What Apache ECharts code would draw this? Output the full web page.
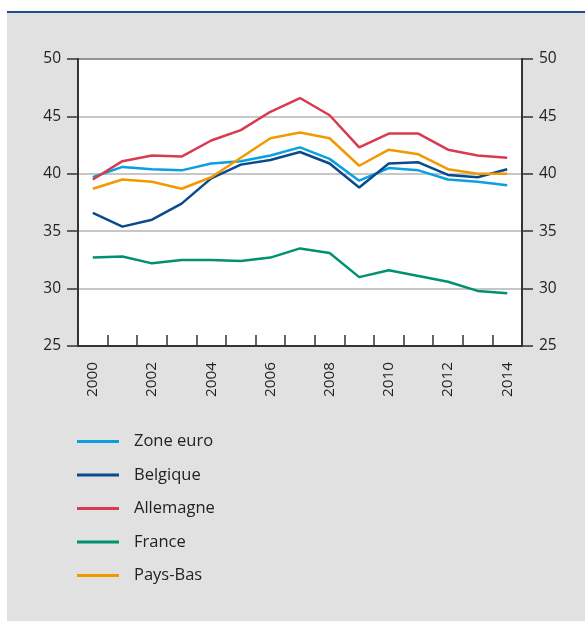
<!DOCTYPE html>
<html>
<head>
<meta charset="utf-8">
<script src="https://cdn.jsdelivr.net/npm/echarts@6/dist/echarts.min.js"></script>
<style>
  html, body { margin: 0; padding: 0; background: #fff; }
  #chart { width: 585px; height: 621px; }
</style>
</head>
<body>
<div id="chart"></div>
<script>
const years = ["2000", "2001", "2002", "2003", "2004", "2005", "2006", "2007", "2008", "2009", "2010", "2011", "2012", "2013", "2014"];

const zoneEuro = [39.7, 40.6, 40.4, 40.3, 40.9, 41.1, 41.6, 42.3, 41.3, 39.4, 40.5, 40.3, 39.5, 39.3, 39.0];
const belgique = [36.6, 35.4, 36.0, 37.4, 39.6, 40.8, 41.2, 41.9, 40.9, 38.8, 40.9, 41.0, 39.9, 39.7, 40.4];
const allemagne = [39.5, 41.1, 41.6, 41.5, 42.9, 43.8, 45.4, 46.6, 45.1, 42.3, 43.5, 43.5, 42.1, 41.6, 41.4];
const france = [32.7, 32.8, 32.2, 32.5, 32.5, 32.4, 32.7, 33.5, 33.1, 31.0, 31.6, 31.1, 30.6, 29.8, 29.6];
const paysBas = [38.7, 39.5, 39.3, 38.7, 39.7, 41.4, 43.1, 43.6, 43.1, 40.7, 42.1, 41.7, 40.4, 40.0, 40.0];

const seriesNames = ["Zone euro", "Belgique", "Allemagne", "France", "Pays-Bas"];
const seriesColors = ["#0a9fe0", "#0a4a8c", "#d93a50", "#00916e", "#f39800"];
const seriesData = [zoneEuro, belgique, allemagne, france, paysBas];

const font = "'Open Sans', 'Noto Sans', sans-serif";

let chart = echarts.init(document.getElementById("chart"));

let yAxisBase = {
  type: "value",
  min: 25,
  max: 50,
  interval: 5,
  axisLine: { show: true, lineStyle: { color: "#333", width: 2 } },
  axisTick: { show: true, inside: false, length: 11, lineStyle: { color: "#333", width: 1.5 } },
  axisLabel: { color: "#222", fontSize: 15.5, fontFamily: font, margin: 17 },
  splitLine: { show: true, lineStyle: { color: "#b4b4b4", width: 1.5 } }
};

let option = {
  animation: false,
  backgroundColor: "#fff",
  graphic: [
    {
      type: "rect",
      z: -10,
      shape: { x: 7, y: 13, width: 578, height: 608 },
      style: { fill: "#e1e1e1" }
    },
    {
      type: "rect",
      z: -5,
      shape: { x: 7, y: 11, width: 578, height: 2 },
      style: { fill: "#1d4f8c" }
    }
  ],
  grid: {
    left: 78,
    right: 63,
    top: 59,
    bottom: 275,
    show: true,
    backgroundColor: "#fff",
    borderColor: "#333",
    borderWidth: 2
  },
  legend: {
    orient: "vertical",
    left: 72,
    top: 428,
    itemWidth: 42,
    itemHeight: 14,
    itemGap: 16.5,
    data: seriesNames.map((n) => ({
      name: n,
      icon: "path://M0,0 L42,0 L42,3 L0,3 Z"
    })),
    textStyle: { color: "#222", fontSize: 16.5, fontFamily: font, padding: [0, 0, 0, 10] }
  },
  xAxis: {
    type: "category",
    data: years,
    boundaryGap: true,
    axisLine: { show: true, lineStyle: { color: "#333", width: 2 } },
    axisTick: { show: true, inside: true, length: 11, interval: 0, lineStyle: { color: "#333", width: 1.5 } },
    axisLabel: { interval: 1, rotate: 90, margin: 16, color: "#222", fontSize: 15.3, fontFamily: font },
    splitLine: { show: false }
  },
  yAxis: [
    Object.assign({}, yAxisBase, { position: "left" }),
    Object.assign({}, yAxisBase, { position: "right", splitLine: { show: false } })
  ],
  series: seriesNames.map((name, i) => ({
    name: name,
    type: "line",
    data: seriesData[i],
    symbol: "none",
    color: seriesColors[i],
    lineStyle: { width: 2.5, color: seriesColors[i] }
  }))
};

chart.setOption(option);
</script>
</body>
</html>
